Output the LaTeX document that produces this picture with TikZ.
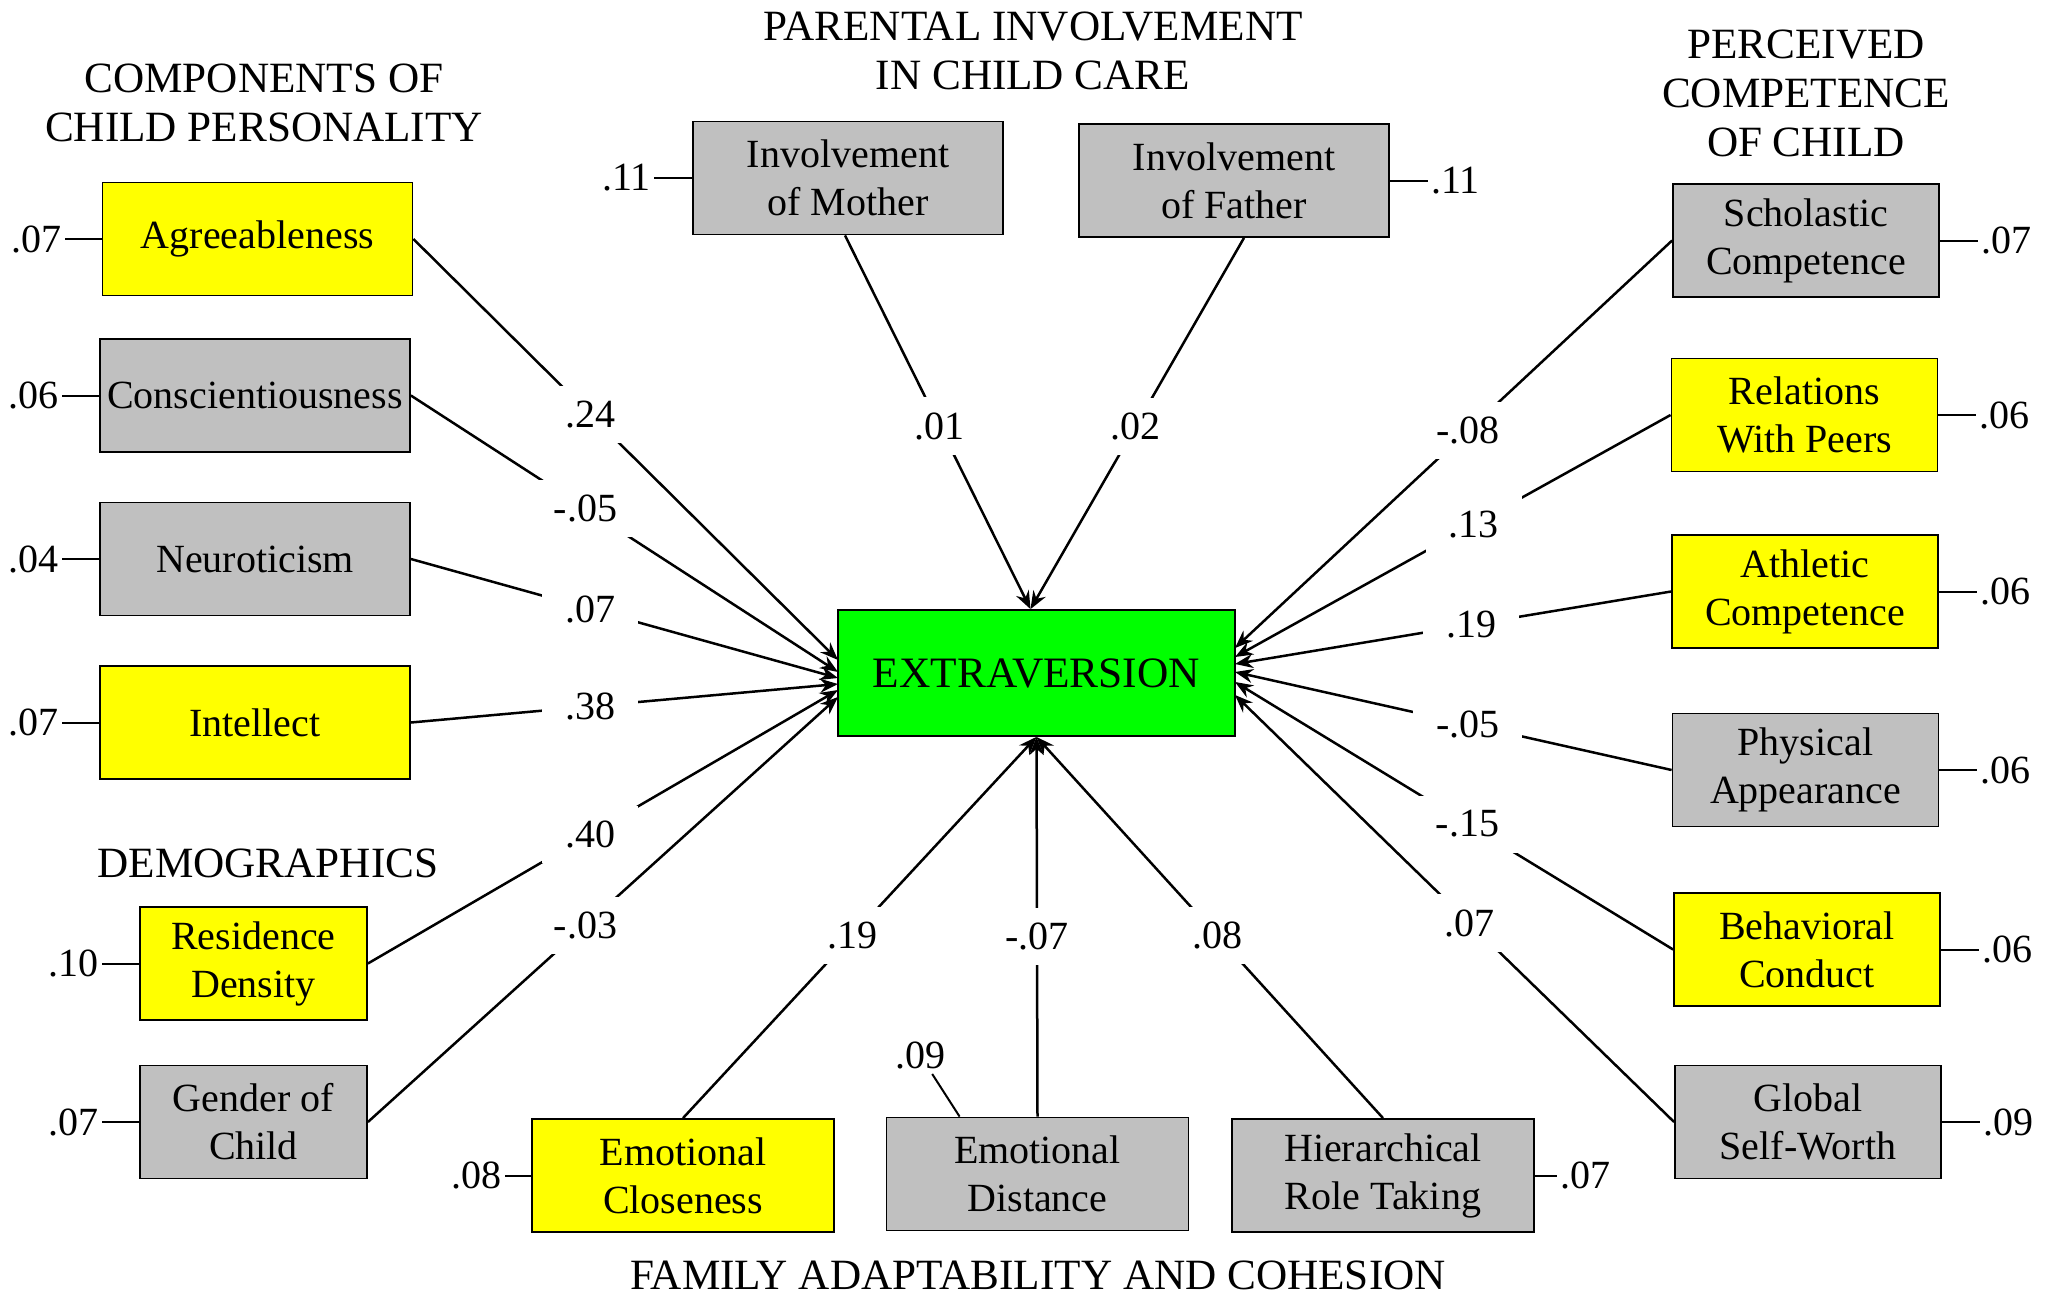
\documentclass[tikz,border=0pt]{standalone}
\usepackage{fontspec}
\setmainfont{Liberation Serif}
\usetikzlibrary{arrows.meta}
\definecolor{ylw}{HTML}{FFFF00}
\definecolor{gry}{HTML}{C0C0C0}
\definecolor{grn}{HTML}{00FF00}
\begin{document}
\begin{tikzpicture}[x=0.5pt,y=-0.5pt,
  every node/.style={font=\fontsize{20pt}{24pt}\selectfont},
  box/.style={draw, line width=0.9pt, align=center, inner sep=0pt, minimum height=56.5pt},
  ybox/.style={box, fill=ylw},
  gbox/.style={box, fill=gry},
  lw/.style={minimum width=155pt},
  dw/.style={minimum width=113.5pt},
  rw/.style={minimum width=133pt},
  bw/.style={minimum width=151pt},
  res/.style={inner sep=1.5pt},
  resline/.style={line width=1pt},
  arr/.style={line width=1.25pt, -{Stealth[length=9pt,width=7pt,inset=3pt]}},
  coef/.style={fill=white, inner xsep=11.5pt, inner ysep=7.5pt},
  head/.style={align=center, inner sep=1pt, font=\fontsize{21.6pt}{24.5pt}\selectfont}
]
\useasboundingbox (0,0) rectangle (2053,1296);

% headings
\node[head] (hcomp) at (264,103) {COMPONENTS OF\\CHILD PERSONALITY};
\node[head] (hpar) at (1033,51) {PARENTAL INVOLVEMENT\\IN CHILD CARE};
\node[head] (hper) at (1806,93) {PERCEIVED\\COMPETENCE\\OF CHILD};
\node[head] (hdem) at (268,863) {DEMOGRAPHICS};
\node[head] (hfam) at (1038,1275) {FAMILY ADAPTABILITY AND COHESION};

% central
\node[box, fill=grn, minimum width=198.5pt, minimum height=63pt,
      font=\fontsize{21.7pt}{24pt}\selectfont] (ext) at (1036.5,673) {EXTRAVERSION};

% left column
\node[ybox, lw] (agr) at (257.5,239) {Agreeableness};
\node[gbox, lw] (con) at (255,395.5) {Conscientiousness};
\node[gbox, lw] (neu) at (255,559) {Neuroticism};
\node[ybox, lw] (int) at (255,722.5) {Intellect};
\node[ybox, dw] (res) at (253.5,963.5) {Residence\\Density};
\node[gbox, dw] (gen) at (253.5,1122) {Gender of\\Child};

% top
\node[gbox, lw] (mom) at (848,178) {Involvement\\of Mother};
\node[gbox, lw] (dad) at (1234,180.5) {Involvement\\of Father};

% right column
\node[gbox, rw] (sch) at (1806,240.5) {Scholastic\\Competence};
\node[ybox, rw] (rel) at (1804.5,415) {Relations\\With Peers};
\node[ybox, rw] (ath) at (1805,591.5) {Athletic\\Competence};
\node[gbox, rw] (phy) at (1805.5,770) {Physical\\Appearance};
\node[ybox, rw] (beh) at (1807,949.5) {Behavioral\\Conduct};
\node[gbox, rw] (glo) at (1808,1122) {Global\\Self-Worth};

% bottom
\node[ybox, bw] (emc) at (683,1175.5) {Emotional\\Closeness};
\node[gbox, bw] (emd) at (1037.5,1174) {Emotional\\Distance};
\node[gbox, bw] (hie) at (1383,1175.5) {Hierarchical\\Role Taking};

% arrow targets on the central box
\coordinate (tagr) at (838,660);
\coordinate (tcon) at (838,672);
\coordinate (tneu) at (838,678);
\coordinate (tint) at (838,684);
\coordinate (tres) at (838,690);
\coordinate (tgen) at (838,697);
\coordinate (tsch) at (1235,648);
\coordinate (trel) at (1235,657);
\coordinate (tath) at (1235,664);
\coordinate (tphy) at (1235,672);
\coordinate (tbeh) at (1235,682);
\coordinate (tglo) at (1235,695);
\coordinate (ttop) at ([xshift=-3pt]ext.north);
\coordinate (smom) at ([xshift=-1.5pt]mom.south);
\coordinate (sdad) at ([xshift=5pt]dad.south);

% paths with coefficients
\draw[arr] (agr.east) -- node[coef,pos=0.416]{.24} (tagr);
\draw[arr] (con.east) -- node[coef,pos=0.409]{-.05} (tcon);
\draw[arr] (neu.east) -- node[coef,pos=0.42]{.07} (tneu);
\draw[arr] (int.east) -- node[coef,pos=0.42]{.38} (tint);
\draw[arr] (res.east) -- node[coef,pos=0.473]{.40} (tres);
\draw[arr] (gen.east) -- node[coef,pos=0.463]{-.03} (tgen);

\draw[arr] (smom) -- node[coef,pos=0.51]{.01} (ttop);
\draw[arr] (sdad) -- node[coef,pos=0.507]{.02} (ttop);

\draw[arr] (sch.west) -- node[coef,pos=0.467]{-.08} (tsch);
\draw[arr] (rel.west) -- node[coef,pos=0.452]{.13} (trel);
\draw[arr] (ath.west) -- node[coef,pos=0.458]{.19} (tath);
\draw[arr] (phy.west) -- node[coef,pos=0.467]{-.05} (tphy);
\draw[arr] (beh.west) -- node[coef,pos=0.469]{-.15} (tbeh);
\draw[arr] (glo.west) -- node[coef,pos=0.466]{.07} (tglo);

\draw[arr] (emc.north) -- node[coef,pos=0.48]{.19} (ext.south);
\draw[arr] (emd.north) -- node[coef,pos=0.475]{-.07} (ext.south);
\draw[arr] (hie.north) -- node[coef,pos=0.478]{.08} (ext.south);

% residuals
\node[res,anchor=east] (ragr) at ([xshift=-18.5pt]agr.west) {.07};
\node[res,anchor=east] (rcon) at ([xshift=-18.5pt]con.west) {.06};
\node[res,anchor=east] (rneu) at ([xshift=-18.5pt]neu.west) {.04};
\node[res,anchor=east] (rint) at ([xshift=-18.5pt]int.west) {.07};
\node[res,anchor=east] (rres) at ([xshift=-18.5pt]res.west) {.10};
\node[res,anchor=east] (rgen) at ([xshift=-18.5pt]gen.west) {.07};
\node[res,anchor=east] (rmom) at ([xshift=-19pt]mom.west) {.11};
\node[res,anchor=west] (rdad) at ([xshift=19pt]dad.east) {.11};
\node[res,anchor=west] (rsch) at ([xshift=19pt]sch.east) {.07};
\node[res,anchor=west] (rrel) at ([xshift=19pt]rel.east) {.06};
\node[res,anchor=west] (rath) at ([xshift=19pt]ath.east) {.06};
\node[res,anchor=west] (rphy) at ([xshift=19pt]phy.east) {.06};
\node[res,anchor=west] (rbeh) at ([xshift=19pt]beh.east) {.06};
\node[res,anchor=west] (rglo) at ([xshift=19pt]glo.east) {.09};
\node[res,anchor=east] (remc) at ([xshift=-13pt]emc.west) {.08};
\node[res,anchor=west] (rhie) at ([xshift=11pt]hie.east) {.07};
\node[inner sep=2.5pt] (remd) at (920,1055) {.09};
\coordinate (demd) at ([xshift=37pt]emd.north west);

\foreach \n in {agr,con,neu,int,res,gen,mom,emc}
  \draw[resline] (\n.west) -- (r\n.east);
\foreach \n in {dad,sch,rel,ath,phy,beh,glo,hie}
  \draw[resline] (\n.east) -- (r\n.west);
\draw[resline] (demd) -- (remd);
\end{tikzpicture}
\end{document}
